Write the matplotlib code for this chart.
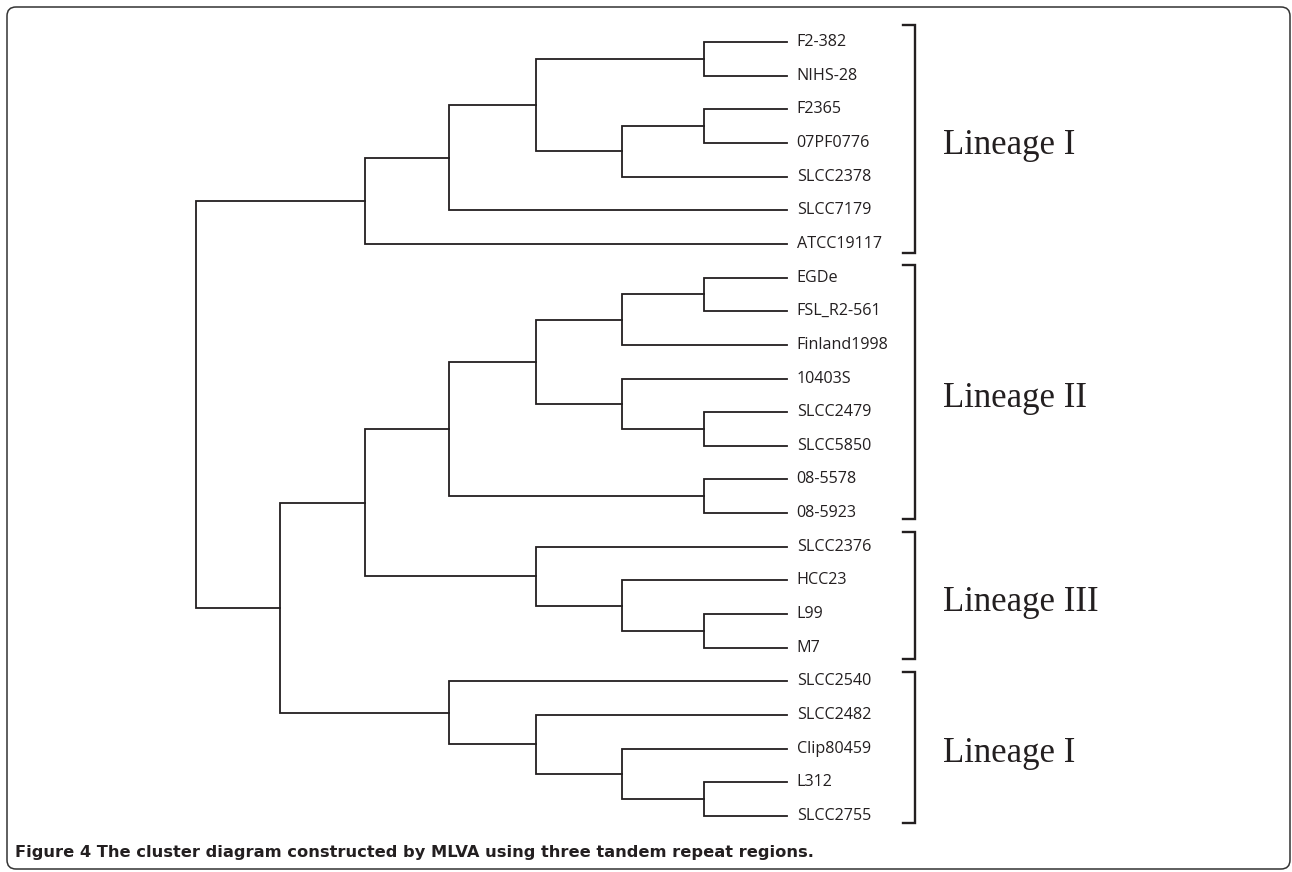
import matplotlib
matplotlib.use("Agg")
import matplotlib.pyplot as plt
from matplotlib.patches import FancyBboxPatch

# leaf order top to bottom
strains = ["F2-382", "NIHS-28", "F2365", "07PF0776", "SLCC2378", "SLCC7179",
           "ATCC19117", "EGDe", "FSL_R2-561", "Finland1998", "10403S", "SLCC2479",
           "SLCC5850", "08-5578", "08-5923", "SLCC2376", "HCC23", "L99", "M7",
           "SLCC2540", "SLCC2482", "Clip80459", "L312", "SLCC2755"]

# merges: node ids 0..23 are leaves, each merge makes node 24, 25, ...
merge_a = [0, 2, 25, 24, 27, 28, 7, 30, 11, 10, 31, 13, 34, 17, 16, 15, 36, 22, 21, 20, 19, 40, 29]
merge_b = [1, 3, 4, 26, 5, 6, 8, 9, 12, 32, 33, 14, 35, 18, 37, 38, 39, 23, 41, 42, 43, 44, 45]
merge_h = [0.98, 0.98, 1.96, 2.97, 4.0, 5.0, 0.98, 1.96, 0.98, 1.96, 2.97, 0.98, 4.0,
           0.98, 1.96, 2.97, 5.0, 0.98, 1.96, 2.97, 4.0, 6.0, 7.0]

# lineage brackets (in leaf-position units)
lineages = ["Lineage I", "Lineage II", "Lineage III", "Lineage I"]
brk_top = [-0.5, 6.63, 14.56, 18.72]
brk_bot = [6.27, 14.17, 18.34, 23.2]

ink = "#231f20"

fig = plt.figure(figsize=(12.92, 8.72), dpi=100)
ax = fig.add_axes([196/1292, 1-816/872, 591/1292, 774/872])
ax.set_xlim(7, 0)
ax.set_ylim(len(strains)-1, 0)
ax.axis("off")

ypos = {i: float(i) for i in range(len(strains))}
hpos = {i: 0.0 for i in range(len(strains))}
for k, (a, b, h) in enumerate(zip(merge_a, merge_b, merge_h)):
    node = len(strains) + k
    ya, yb = ypos[a], ypos[b]
    ax.plot([hpos[a], h, h, hpos[b]], [ya, ya, yb, yb], color=ink, lw=1.3,
            solid_joinstyle="miter", clip_on=False)
    ypos[node] = (ya + yb) / 2
    hpos[node] = h

for i, s in enumerate(strains):
    ax.annotate(s, xy=(0, i), xytext=(7, 0), textcoords="offset points",
                ha="left", va="center", fontsize=11.6, family="Open Sans", color=ink)

bx = -1.516
hook = 0.14
for name, t, b in zip(lineages, brk_top, brk_bot):
    ax.plot([bx + hook, bx, bx, bx + hook], [t, t, b, b], color=ink, lw=1.7,
            solid_joinstyle="miter", clip_on=False)
    ax.text(-1.848, (t + b) / 2 + 0.445, name, ha="left", va="baseline", fontsize=25,
            family="Liberation Serif", color=ink)

border = FancyBboxPatch((0.07, 0.03), 12.83, 8.62, boxstyle="round,pad=0,rounding_size=0.09",
                        transform=fig.dpi_scale_trans, fill=False, ec="#333333", lw=1.1)
fig.patches.append(border)

fig.text(15/1292, 1-857/872, "Figure 4 The cluster diagram constructed by MLVA using three tandem repeat regions.",
         ha="left", va="baseline", fontsize=11.7, fontweight="bold", family="DejaVu Sans", color=ink)

fig.savefig("out.png", dpi=100, facecolor="white")
